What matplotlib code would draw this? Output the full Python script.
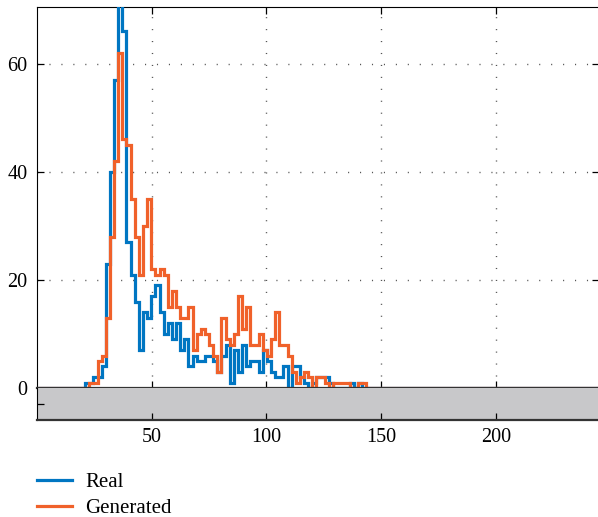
import numpy as np
import matplotlib.pyplot as plt
from matplotlib.lines import Line2D

plt.rcParams['font.family'] = ['Liberation Serif', 'DejaVu Serif']

# histogram bins (counts)
bin_edges = np.linspace(21, 145.2, 70)
real_counts = [1, 1, 2, 2, 4, 23, 40, 57, 78, 66,
               27, 21, 16, 7, 14, 13, 17, 19, 14, 10,
               12, 9, 12, 7, 9, 4, 6, 5, 5, 6,
               6, 5, 3, 6, 8, 1, 7, 3, 8, 4,
               5, 5, 3, 7, 5, 3, 2, 2, 4, 0,
               4, 4, 2, 1, 0, 1, 2, 2, 2, 1,
               0, 0, 0, 0, 1, 0, 1, 0, 0]
gen_counts = [0, 1, 1, 5, 6, 13, 28, 42, 62, 46,
              45, 35, 28, 21, 30, 35, 22, 21, 22, 21,
              15, 18, 15, 13, 13, 15, 7, 10, 11, 10,
              8, 6, 3, 13, 9, 8, 10, 17, 11, 15,
              8, 8, 10, 7, 6, 9, 14, 8, 8, 6,
              3, 1, 2, 3, 2, 0, 2, 2, 1, 0,
              1, 1, 1, 1, 0, 0, 1, 1, 0]
labels = ['Real', 'Generated']
colors = ['#0076C2', '#F0612A']

x_min, x_max = 0, 245
x_ticks = [50, 100, 150, 200]
y_ticks = [0, 20, 40, 60]

fig = plt.figure(figsize=(5.98, 5.17), dpi=100)
ax = fig.add_axes([0.0619, 0.2495, 0.94, 0.737])
axg = fig.add_axes([0.0619, 0.1876, 0.94, 0.0619])

edges = np.concatenate([[x_min], bin_edges, [x_max]])
for counts, col in zip([real_counts, gen_counts], colors):
    vals = np.concatenate([[0], counts, [0]])
    ax.stairs(vals, edges, color=col, lw=2.3, zorder=3)

ax.set_xlim(x_min, x_max)
ax.set_ylim(0, 70.5)
ax.set_xticks(x_ticks)
ax.set_yticks(y_ticks)
ax.tick_params(direction='in', length=5, width=0.9, top=True, right=True,
               labelbottom=False, labelsize=14.5, pad=7)
for v in y_ticks[1:]:
    ax.axhline(v, color='#555555', lw=1.0, ls=(0, (0.8, 7.8)), zorder=1)
for v in x_ticks:
    ax.axvline(v, color='#555555', lw=1.0, ls=(0, (0.8, 7.8)), zorder=1)
ax.spines['bottom'].set_color('#333333')
ax.spines['bottom'].set_linewidth(1.6)
ax.spines['bottom'].set_zorder(4)
ax.spines['right'].set_visible(False)

# gray strip below zero
axg.set_facecolor('#C8C8CA')
axg.set_xlim(x_min, x_max)
axg.set_ylim(-6, 0)
axg.set_xticks(x_ticks)
axg.set_yticks([-3])
axg.set_yticklabels([])
axg.tick_params(direction='in', length=5, width=0.9, labelsize=14.5, pad=6)
axg.spines['top'].set_visible(False)
axg.spines['right'].set_visible(False)
axg.spines['bottom'].set_color('#333333')
axg.spines['bottom'].set_linewidth(1.6)

handles = [Line2D([], [], color=c, lw=2.3) for c in colors]
ax.legend(handles, labels, loc='upper left', bbox_to_anchor=(0.0619, 0.086),
          bbox_transform=fig.transFigure, frameon=False, fontsize=15,
          handlelength=1.68, handletextpad=0.62, borderaxespad=0, borderpad=0,
          labelspacing=0.32)

fig.savefig('out.png', dpi=100)
